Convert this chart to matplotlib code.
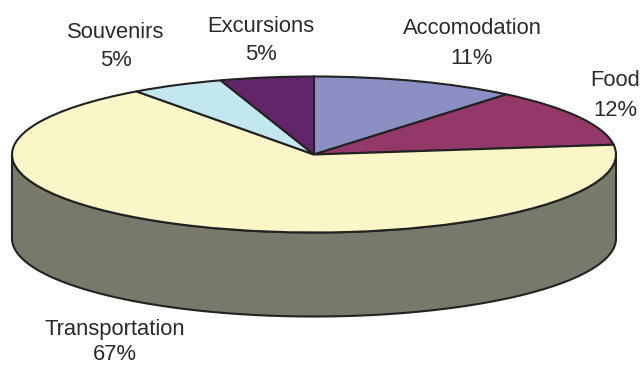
import numpy as np
import matplotlib
matplotlib.use("Agg")
import matplotlib.pyplot as plt

# === chart data, clockwise from 12 o'clock ===
categories = ["Accomodation", "Food", "Transportation", "Souvenirs", "Excursions"]
shares = [11, 12, 67, 5, 5]
colors = ["#8b8fc4", "#94386a", "#fbf6c8", "#c2e7ef", "#61266a"]
side_color = "#77796a"
edge_color = "#222222"

# label centres in picture pixels (x, y of name line, y of percent line)
label_pos = {
    "Accomodation": (472, 29, 58),
    "Food": (615, 81, 110),
    "Transportation": (115, 329, 355),
    "Souvenirs": (116, 32, 60),
    "Excursions": (261, 26, 55),
}

W, H = 642, 365
CX, CY, RX, RY = 314, 154.5, 302, 78
DEPTH = 84 / RY

plt.rcParams["font.family"] = ["Liberation Sans", "DejaVu Sans"]

fig = plt.figure(figsize=(W / 100, H / 100), dpi=100)
ax = fig.add_axes([0, 0, 1, 1])

# side of the disc, the visible lower rim
t = np.radians(np.linspace(180, 360, 300))
rim_x = np.cos(t)
rim_y = np.sin(t)
ax.fill(np.r_[rim_x, rim_x[::-1]], np.r_[rim_y - DEPTH, rim_y[::-1]],
        facecolor=side_color, edgecolor=edge_color, linewidth=1.5, zorder=1)

ax.pie(shares, colors=colors, startangle=90, counterclock=False, radius=1,
       wedgeprops={"edgecolor": edge_color, "linewidth": 1.5, "zorder": 2})

# pie() forces a round disc, squash it back to the tilted ellipse
ax.set_aspect("auto")
ax.set_xlim(-CX / RX, (W - CX) / RX)
ax.set_ylim((CY - H) / RY, CY / RY)
ax.axis("off")

for name, share in zip(categories, shares):
    x, y1, y2 = label_pos[name]
    ax.text((x - CX) / RX, (CY - y1) / RY, name, fontsize=15.8, color="#2a2a2a",
            ha="center", va="center", clip_on=False)
    ax.text((x - CX) / RX, (CY - y2) / RY, f"{share}%", fontsize=15.8, color="#2a2a2a",
            ha="center", va="center", clip_on=False)

fig.savefig("out.png", dpi=100)
